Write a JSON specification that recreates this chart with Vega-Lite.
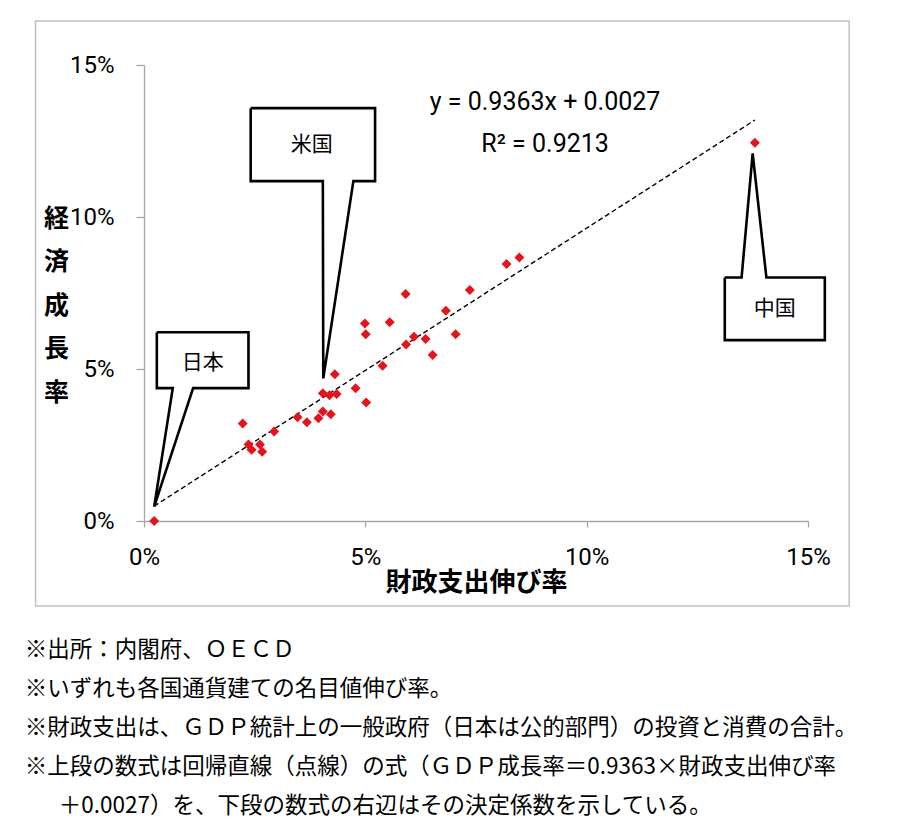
{
  "$schema": "https://vega.github.io/schema/vega-lite/v6.json",
  "width": 664,
  "height": 456,
  "autosize": {"type": "none"},
  "padding": {"left": 144, "top": 65, "right": 92, "bottom": 316},
  "background": "white",
  "config": {"view": {"stroke": null}, "font": "Noto Sans CJK JP"},
  "title": {
    "text": [
      "※出所：内閣府、ＯＥＣＤ",
      "※いずれも各国通貨建ての名目値伸び率。",
      "※財政支出は、ＧＤＰ統計上の一般政府（日本は公的部門）の投資と消費の合計。",
      "※上段の数式は回帰直線（点線）の式（ＧＤＰ成長率＝0.9363×財政支出伸び率",
      "⠀⠀＋0.0027）を、下段の数式の右辺はその決定係数を示している。"
    ],
    "orient": "bottom",
    "anchor": "start",
    "frame": "bounds",
    "offset": 32,
    "dx": -10,
    "font": "Noto Sans CJK JP",
    "fontSize": 22.5,
    "fontWeight": "normal",
    "lineHeight": 39,
    "color": "black"
  },
  "datasets": {
    "points": [
      {"x": 0.0023, "y": 0.0000},
      {"x": 0.0223, "y": 0.0321},
      {"x": 0.0236, "y": 0.0252},
      {"x": 0.0243, "y": 0.0234},
      {"x": 0.0262, "y": 0.0252},
      {"x": 0.0267, "y": 0.0228},
      {"x": 0.0294, "y": 0.0294},
      {"x": 0.0347, "y": 0.0341},
      {"x": 0.0368, "y": 0.0325},
      {"x": 0.0394, "y": 0.0338},
      {"x": 0.0404, "y": 0.0360},
      {"x": 0.0422, "y": 0.0351},
      {"x": 0.0404, "y": 0.0420},
      {"x": 0.0419, "y": 0.0414},
      {"x": 0.0435, "y": 0.0418},
      {"x": 0.0431, "y": 0.0483},
      {"x": 0.0478, "y": 0.0437},
      {"x": 0.0502, "y": 0.0390},
      {"x": 0.0499, "y": 0.0650},
      {"x": 0.0501, "y": 0.0614},
      {"x": 0.0555, "y": 0.0654},
      {"x": 0.0591, "y": 0.0747},
      {"x": 0.0539, "y": 0.0511},
      {"x": 0.0592, "y": 0.0581},
      {"x": 0.0610, "y": 0.0606},
      {"x": 0.0636, "y": 0.0599},
      {"x": 0.0652, "y": 0.0546},
      {"x": 0.0682, "y": 0.0692},
      {"x": 0.0704, "y": 0.0614},
      {"x": 0.0736, "y": 0.0760},
      {"x": 0.0819, "y": 0.0845},
      {"x": 0.0848, "y": 0.0867},
      {"x": 0.1380, "y": 0.1244}
    ],
    "trend": [
      {"x": 0.0023, "y": 0.0049},
      {"x": 0.1380, "y": 0.1319}
    ],
    "frame": [
      {"x": -0.0245, "x2": 0.1593, "y": -0.0280, "y2": 0.1645}
    ],
    "callouts": [
      {"c": "米国", "i": 0, "x": 0.0241, "y": 0.1358},
      {"c": "米国", "i": 1, "x": 0.0522, "y": 0.1358},
      {"c": "米国", "i": 2, "x": 0.0522, "y": 0.1118},
      {"c": "米国", "i": 3, "x": 0.0473, "y": 0.1118},
      {"c": "米国", "i": 4, "x": 0.0405, "y": 0.0469},
      {"c": "米国", "i": 5, "x": 0.0404, "y": 0.1118},
      {"c": "米国", "i": 6, "x": 0.0241, "y": 0.1118},
      {"c": "米国", "i": 7, "x": 0.0241, "y": 0.1358},
      {"c": "日本", "i": 0, "x": 0.0029, "y": 0.0621},
      {"c": "日本", "i": 1, "x": 0.0236, "y": 0.0621},
      {"c": "日本", "i": 2, "x": 0.0236, "y": 0.0437},
      {"c": "日本", "i": 3, "x": 0.0111, "y": 0.0437},
      {"c": "日本", "i": 4, "x": 0.0023, "y": 0.0047},
      {"c": "日本", "i": 5, "x": 0.0065, "y": 0.0437},
      {"c": "日本", "i": 6, "x": 0.0029, "y": 0.0437},
      {"c": "日本", "i": 7, "x": 0.0029, "y": 0.0621},
      {"c": "中国", "i": 0, "x": 0.1312, "y": 0.0801},
      {"c": "中国", "i": 1, "x": 0.1350, "y": 0.0801},
      {"c": "中国", "i": 2, "x": 0.1375, "y": 0.1209},
      {"c": "中国", "i": 3, "x": 0.1406, "y": 0.0801},
      {"c": "中国", "i": 4, "x": 0.1538, "y": 0.0801},
      {"c": "中国", "i": 5, "x": 0.1538, "y": 0.0595},
      {"c": "中国", "i": 6, "x": 0.1312, "y": 0.0595},
      {"c": "中国", "i": 7, "x": 0.1312, "y": 0.0801}
    ],
    "labels": [
      {"label": "米国", "x": 0.0379, "y": 0.1237},
      {"label": "日本", "x": 0.0133, "y": 0.0520},
      {"label": "中国", "x": 0.1425, "y": 0.0696}
    ],
    "equation": [
      {"label": "y = 0.9363x + 0.0027", "x": 0.0906, "y": 0.1378},
      {"label": "R² = 0.9213", "x": 0.0906, "y": 0.1240}
    ]
  },
  "layer": [
    {
      "data": {"name": "frame"},
      "mark": {"type": "rect", "fill": "white", "fillOpacity": 0, "stroke": "#c0c0c0", "strokeWidth": 1.5, "clip": false},
      "encoding": {
        "x": {"field": "x", "type": "quantitative", "scale": {"domain": [0, 0.15], "nice": false}},
        "x2": {"field": "x2"},
        "y": {"field": "y", "type": "quantitative", "scale": {"domain": [0, 0.15], "nice": false}},
        "y2": {"field": "y2"}
      }
    },
    {
      "data": {"name": "trend"},
      "mark": {"type": "line", "color": "black", "strokeWidth": 1.4, "strokeDash": [5, 3]},
      "encoding": {
        "x": {"field": "x", "type": "quantitative", "scale": {"domain": [0, 0.15], "nice": false}},
        "y": {"field": "y", "type": "quantitative", "scale": {"domain": [0, 0.15], "nice": false}}
      }
    },
    {
      "data": {"name": "points"},
      "mark": {"type": "point", "shape": "diamond", "filled": true, "size": 100, "color": "#e3141b", "opacity": 1},
      "encoding": {
        "x": {
          "field": "x", "type": "quantitative",
          "scale": {"domain": [0, 0.15], "nice": false},
          "axis": {
            "title": "財政支出伸び率",
            "values": [0, 0.05, 0.1, 0.15],
            "format": ".0%",
            "grid": false,
            "domainColor": "#a6a6a6",
            "domainWidth": 1.3,
            "tickColor": "#a6a6a6",
            "tickWidth": 1.3,
            "tickSize": 6,
            "labelFont": "Roboto",
            "labelFontSize": 24,
            "labelColor": "black",
            "labelPadding": 18,
            "labelFlush": false,
            "labelOverlap": false,
            "titleFont": "Noto Sans CJK JP",
            "titleFontSize": 26,
            "titleFontWeight": "bold",
            "titleColor": "black",
            "titlePadding": 0
          }
        },
        "y": {
          "field": "y", "type": "quantitative",
          "scale": {"domain": [0, 0.15], "nice": false},
          "axis": {
            "title": ["経", "済", "成", "長", "率"],
            "values": [0, 0.05, 0.1, 0.15],
            "format": ".0%",
            "grid": false,
            "domainColor": "#a6a6a6",
            "domainWidth": 1.3,
            "tickColor": "#a6a6a6",
            "tickWidth": 1.3,
            "tickSize": 8,
            "labelFont": "Roboto",
            "labelFontSize": 24,
            "labelColor": "black",
            "labelPadding": 22,
            "labelFlush": false,
            "labelOverlap": false,
            "labelBaseline": "middle",
            "titleFont": "Noto Sans CJK JP",
            "titleFontSize": 25,
            "titleFontWeight": "bold",
            "titleColor": "black",
            "titleAngle": 0,
            "titleAlign": "center",
            "titleBaseline": "middle",
            "titleLineHeight": 43.5,
            "titleX": -88,
            "titleY": 153
          }
        }
      }
    },
    {
      "data": {"name": "callouts"},
      "mark": {"type": "line", "color": "black", "strokeWidth": 2.6, "strokeJoin": "miter", "strokeMiterLimit": 4, "clip": false},
      "encoding": {
        "x": {"field": "x", "type": "quantitative", "scale": {"domain": [0, 0.15], "nice": false}},
        "y": {"field": "y", "type": "quantitative", "scale": {"domain": [0, 0.15], "nice": false}},
        "detail": {"field": "c", "type": "nominal"},
        "order": {"field": "i", "type": "quantitative"}
      }
    },
    {
      "data": {"name": "labels"},
      "mark": {"type": "text", "font": "Noto Sans CJK JP", "fontSize": 21, "color": "black", "align": "center", "baseline": "middle"},
      "encoding": {
        "x": {"field": "x", "type": "quantitative", "scale": {"domain": [0, 0.15], "nice": false}},
        "y": {"field": "y", "type": "quantitative", "scale": {"domain": [0, 0.15], "nice": false}},
        "text": {"field": "label"}
      }
    },
    {
      "data": {"name": "equation"},
      "mark": {"type": "text", "font": "Roboto", "fontSize": 25, "color": "black", "align": "center", "baseline": "middle"},
      "encoding": {
        "x": {"field": "x", "type": "quantitative", "scale": {"domain": [0, 0.15], "nice": false}},
        "y": {"field": "y", "type": "quantitative", "scale": {"domain": [0, 0.15], "nice": false}},
        "text": {"field": "label"}
      }
    }
  ]
}
